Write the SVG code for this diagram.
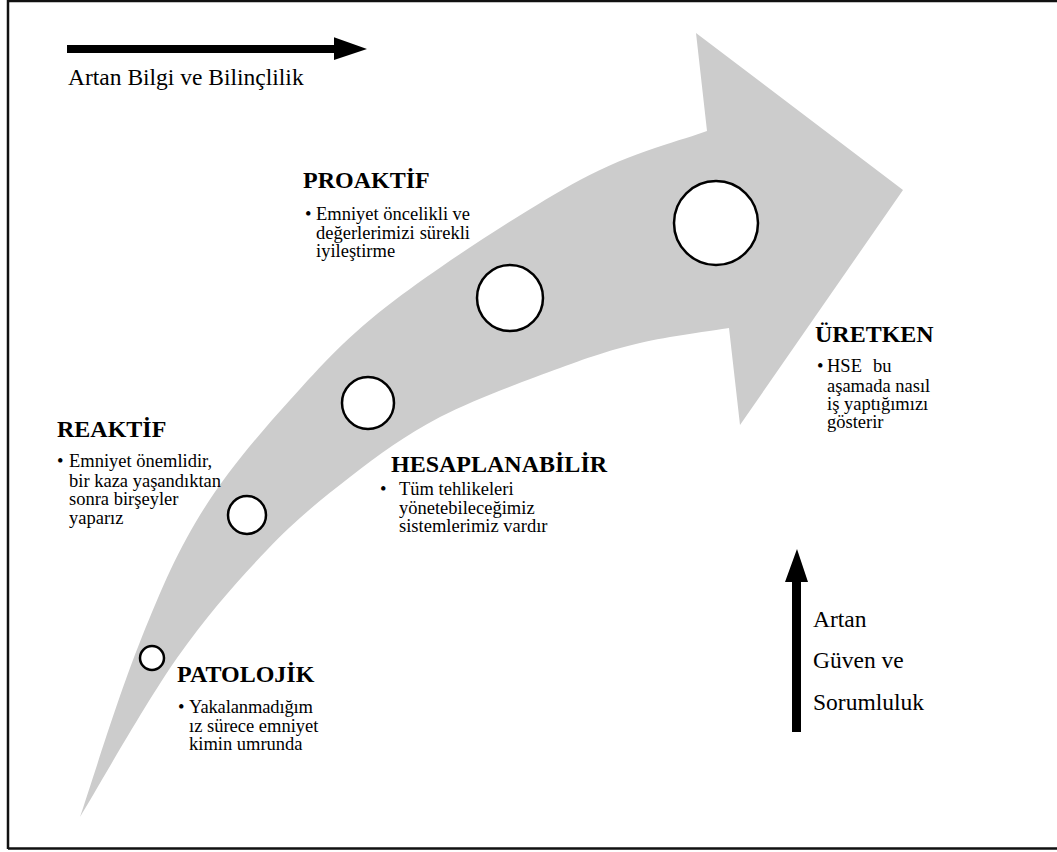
<svg xmlns="http://www.w3.org/2000/svg" width="1057" height="852" viewBox="0 0 1057 852">
<style>
.t{font-family:'Liberation Serif','DejaVu Serif',serif;fill:#000}
.h{font-size:24px;font-weight:bold}
.b{font-size:18.5px}
.ax{font-size:23.5px}
.c{fill:#fff;stroke:#000;stroke-width:2.5}
</style>
<rect width="1057" height="852" fill="#fff"/>
<path d="M8,849 V1 H1060 M8,848.5 H1060" fill="none" stroke="#111" stroke-width="2.5"/>
<g id="growth-arrow">
<path fill="#ccc" d="M80,817 C89.7,788.7 118,697.3 138,647 C158,596.7 174.7,556.2 200,515 C225.3,473.8 257.5,435.8 290,400 C322.5,364.2 346.7,336.7 395,300 C443.3,263.3 528,208.2 580,180 C632,151.8 685.8,139.2 707,131 L696,33 L903,190 L740,425 L729,328 C714.2,330.5 668.2,336.3 640,343 C611.8,349.7 593.3,355.7 560,368 C526.7,380.3 475,398.8 440,417 C405,435.2 378.8,454.8 350,477 C321.2,499.2 295.8,519.8 267,550 C238.2,580.2 208.2,613.5 177,658 C145.8,702.5 96.2,790.5 80,817 Z"/>
</g>
<g id="connectors">
<path d="M67,45 H334 V37.3 L367,49 L334,60 V53 H67 Z" fill="#000"/>
<path d="M792,732 V582 H785 L797,549 L808,582 H801 V732 Z" fill="#000"/>
</g>
<g id="axis-x-label"><text class="t ax" x="68" y="85">Artan Bilgi ve Bilinçlilik</text></g>
<g id="axis-y-label">
<text class="t ax" x="813" y="627">Artan</text>
<text class="t ax" x="813" y="668">Güven ve</text>
<text class="t ax" x="813" y="710">Sorumluluk</text>
</g>
<g id="patolojik">
<circle class="c" cx="152" cy="658" r="12"/>
<text class="t h" x="177" y="682">PATOLOJİK</text>
<text class="t b" x="178" y="713">•</text>
<text class="t b" x="189" y="713" textLength="124">Yakalanmadığım</text>
<text class="t b" x="189" y="732">ız sürece emniyet</text>
<text class="t b" x="189" y="750">kimin umrunda</text>
</g>
<g id="reaktif">
<circle class="c" cx="247" cy="515" r="19"/>
<text class="t h" x="57" y="437">REAKTİF</text>
<text class="t b" x="57" y="467">•</text>
<text class="t b" x="69" y="467">Emniyet önemlidir,</text>
<text class="t b" x="69" y="487">bir kaza yaşandıktan</text>
<text class="t b" x="69" y="505">sonra birşeyler</text>
<text class="t b" x="69" y="524">yaparız</text>
</g>
<g id="hesaplanabilir">
<circle class="c" cx="368" cy="403" r="26"/>
<text class="t h" x="391" y="472">HESAPLANABİLİR</text>
<text class="t b" x="380" y="495">•</text>
<text class="t b" x="399" y="495">Tüm tehlikeleri</text>
<text class="t b" x="399" y="514">yönetebileceğimiz</text>
<text class="t b" x="399" y="532">sistemlerimiz vardır</text>
</g>
<g id="proaktif">
<circle class="c" cx="510" cy="298" r="33"/>
<text class="t h" x="303" y="188">PROAKTİF</text>
<text class="t b" x="305" y="220">•</text>
<text class="t b" x="316" y="220">Emniyet öncelikli</text>
<text class="t b" x="470" y="220" text-anchor="end">ve</text>
<text class="t b" x="316" y="239">değerlerimizi</text>
<text class="t b" x="470" y="239" text-anchor="end">sürekli</text>
<text class="t b" x="316" y="257">iyileştirme</text>
</g>
<g id="uretken">
<circle class="c" cx="716" cy="223" r="42"/>
<text class="t h" x="815" y="342">ÜRETKEN</text>
<text class="t b" x="817" y="372">•</text>
<text class="t b" x="827" y="372">HSE</text>
<text class="t b" x="873" y="372">bu</text>
<text class="t b" x="827" y="392">aşamada nasıl</text>
<text class="t b" x="827" y="410">iş yaptığımızı</text>
<text class="t b" x="827" y="428">gösterir</text>
</g>
</svg>
